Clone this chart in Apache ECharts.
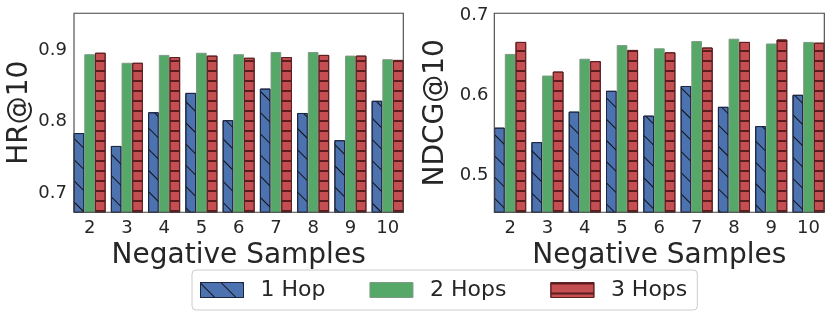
<!DOCTYPE html>
<html><head><meta charset="utf-8">
<script src="https://cdn.jsdelivr.net/npm/echarts@6/dist/echarts.min.js"></script>
<style>html,body{margin:0;padding:0;background:#fff}#c{width:830px;height:317px}</style>
</head><body><div id="c"></div>
<script>
const categories = ['2','3','4','5','6','7','8','9','10'];
const seriesNames = ['1 Hop','2 Hops','3 Hops'];
const hr1Hop  = [0.784, 0.766, 0.813, 0.840, 0.802, 0.846, 0.812, 0.774, 0.829];
const hr2Hops = [0.894, 0.882, 0.893, 0.896, 0.894, 0.897, 0.897, 0.892, 0.887];
const hr3Hops = [0.896, 0.882, 0.890, 0.892, 0.889, 0.890, 0.893, 0.892, 0.886];
const ndcg1Hop  = [0.560, 0.542, 0.580, 0.606, 0.575, 0.612, 0.586, 0.562, 0.601];
const ndcg2Hops = [0.652, 0.625, 0.646, 0.663, 0.659, 0.668, 0.671, 0.665, 0.667];
const ndcg3Hops = [0.667, 0.630, 0.643, 0.657, 0.654, 0.660, 0.667, 0.670, 0.666];
const hrTicks = [0.7, 0.8, 0.9];
const ndcgTicks = [0.5, 0.6, 0.7];
const xName = 'Negative Samples';
const yNames = ['HR@10', 'NDCG@10'];

const TXT = '#262626';
const FONT = 'DejaVu Sans';
const styles = [
  { color: '#4C72B0', borderColor: '#1c2640', borderWidth: 1,
    decal: { symbol: 'rect', symbolSize: 1, symbolKeepAspect: false, dashArrayX: [20, 0], dashArrayY: [1, 13.1], rotation: Math.PI / 4, color: '#111' } },
  { color: '#55A868', borderColor: '#7d9a84', borderWidth: 1 },
  { color: '#C44E52', borderColor: '#5e2020', borderWidth: 1,
    decal: { symbol: 'rect', symbolSize: 1, symbolKeepAspect: false, dashArrayX: [20, 0], dashArrayY: [2, 8], rotation: 0, color: '#5a1c1c' } }
];

function makeSeries(gridIdx, arrays) {
  return arrays.map((arr, i) => ({
    type: 'bar', name: seriesNames[i], xAxisIndex: gridIdx, yAxisIndex: gridIdx,
    data: arr, barGap: '0%', barCategoryGap: '14%',
    itemStyle: styles[i], emphasis: { disabled: true }
  }));
}

function xAxis(gridIdx) {
  return {
    type: 'category', gridIndex: gridIdx, data: categories,
    axisLine: { show: false }, axisTick: { show: false }, splitLine: { show: false },
    axisLabel: { interval: 0, fontSize: 18, color: TXT, fontFamily: FONT, margin: 7 },
    name: xName, nameLocation: 'middle', nameGap: 26,
    nameTextStyle: { fontSize: 28, color: TXT, fontFamily: FONT }
  };
}
function yAxis(gridIdx, min, max, ticks, name, gap, margin) {
  return {
    type: 'value', gridIndex: gridIdx, min: min, max: max,
    axisLine: { show: false }, axisTick: { show: false }, splitLine: { show: false },
    axisLabel: { customValues: ticks, fontSize: 18, color: TXT, fontFamily: FONT, margin: margin,
      formatter: v => v.toFixed(1) },
    name: name, nameLocation: 'middle', nameGap: gap, nameRotate: 90,
    nameTextStyle: { fontSize: 28, color: TXT, fontFamily: FONT }
  };
}

const chart = echarts.init(document.getElementById('c'), null, { renderer: 'canvas' });
chart.setOption({
  animation: false,
  backgroundColor: '#fff',
  textStyle: { fontFamily: FONT },
  grid: [
    { left: 71.0, top: 13.3, width: 335.3, height: 199, outerBoundsMode: 'none' },
    { left: 491.5, top: 13.3, width: 335.7, height: 199, outerBoundsMode: 'none' },
    { left: 74, top: 13.3, width: 329.3, height: 199, show: true, borderColor: '#444', borderWidth: 1.1, backgroundColor: 'transparent', z: 5, outerBoundsMode: 'none' },
    { left: 494.3, top: 13.3, width: 330, height: 199, show: true, borderColor: '#444', borderWidth: 1.1, backgroundColor: 'transparent', z: 5, outerBoundsMode: 'none' }
  ],
  xAxis: [xAxis(0), xAxis(1)],
  yAxis: [
    yAxis(0, 0.6735, 0.951, hrTicks, yNames[0], 37, 4),
    yAxis(1, 0.4544, 0.7027, ndcgTicks, yNames[1], 42, 3)
  ],
  legend: {
    data: seriesNames, left: 192, top: 270, orient: 'horizontal',
    icon: 'rect', itemWidth: 43, itemHeight: 15, itemGap: 44,
    padding: [9, 10, 9, 8],
    borderColor: '#cccccc', borderWidth: 1, borderRadius: 4, backgroundColor: '#fff',
    itemStyle: { borderWidth: 1 },
    textStyle: { fontSize: 22, color: TXT, fontFamily: FONT, padding: [0, 0, 0, 12] },
    selectedMode: false
  },
  series: [].concat(
    makeSeries(0, [hr1Hop, hr2Hops, hr3Hops]),
    makeSeries(1, [ndcg1Hop, ndcg2Hops, ndcg3Hops])
  )
});
</script></body></html>
